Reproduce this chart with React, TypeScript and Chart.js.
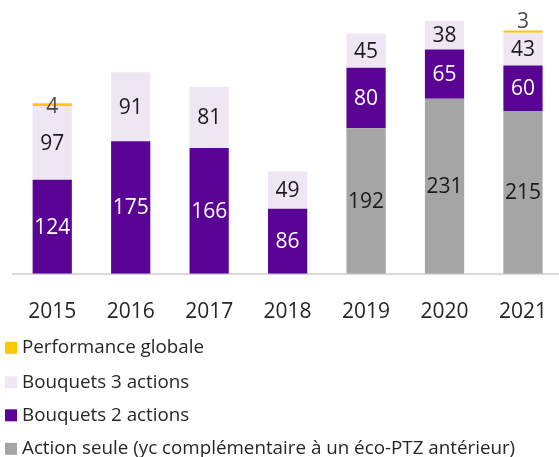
import React, { useEffect, useRef } from "react";
import { Chart, registerables } from "chart.js";

Chart.register(...registerables);

const years = ["2015", "2016", "2017", "2018", "2019", "2020", "2021"];
const actionSeule = [0, 0, 0, 0, 192, 231, 215];
const bouquets2 = [124, 175, 166, 86, 80, 65, 60];
const bouquets3 = [97, 91, 81, 49, 45, 38, 43];
const performanceGlobale = [4, 0, 0, 0, 0, 0, 3];

const FONT = "'Open Sans', 'Noto Sans', sans-serif";

const labelsPlugin = {
  id: "segLabels",
  afterDatasetsDraw(chart: any) {
    const ctx = chart.ctx;
    ctx.save();
    ctx.font = `21px ${FONT}`;
    ctx.textAlign = "center";
    ctx.textBaseline = "middle";
    chart.data.datasets.forEach((ds: any, di: number) => {
      const meta = chart.getDatasetMeta(di);
      meta.data.forEach((bar: any, i: number) => {
        const v = ds.data[i];
        if (!v) return;
        const top = Math.min(bar.y, bar.base);
        const bottom = Math.max(bar.y, bar.base);
        let y = (top + bottom) / 2;
        let color = ds.labelColor;
        if (ds.isPerf) {
          color = "#4a4a4a";
          if (i === ds.data.length - 1) y = top - 10;
          else y = (top + bottom) / 2 + 1;
        }
        ctx.fillStyle = color;
        ctx.fillText(String(v), bar.x, y + 1);
      });
    });
    ctx.restore();
  },
};

const legendPlugin = {
  id: "vertLegend",
  afterDraw(chart: any) {
    const ctx = chart.ctx;
    const order = [3, 2, 1, 0];
    const baseY = chart.chartArea.bottom;
    const offsets = [74, 108.5, 141.5, 175];
    ctx.save();
    ctx.font = `18.8px ${FONT}`;
    ctx.textAlign = "left";
    ctx.textBaseline = "middle";
    order.forEach((di, k) => {
      const ds = chart.data.datasets[di];
      const cy = baseY + offsets[k];
      ctx.fillStyle = ds.backgroundColor;
      ctx.fillRect(5, cy - 6, 12, 12);
      ctx.fillStyle = "#262626";
      ctx.fillText(ds.label, 22, cy);
    });
    ctx.restore();
  },
};

export default function App() {
  const ref = useRef<HTMLCanvasElement>(null);
  useEffect(() => {
    if (!ref.current) return;
    const chart = new Chart(ref.current, {
      type: "bar",
      data: {
        labels: years,
        datasets: [
          {
            label: "Action seule (yc complémentaire à un éco-PTZ antérieur)",
            data: actionSeule,
            backgroundColor: "#a5a5a5",
            labelColor: "#1a1a1a",
          } as any,
          {
            label: "Bouquets 2 actions",
            data: bouquets2,
            backgroundColor: "#590494",
            labelColor: "#ffffff",
          } as any,
          {
            label: "Bouquets 3 actions",
            data: bouquets3,
            backgroundColor: "#efe6f4",
            labelColor: "#1a1a1a",
          } as any,
          {
            label: "Performance globale",
            data: performanceGlobale,
            backgroundColor: "#ffc800",
            labelColor: "#4a4a4a",
            isPerf: true,
          } as any,
        ],
      },
      options: {
        animation: false,
        responsive: false,
        maintainAspectRatio: false,
        layout: { padding: { left: 13, right: 0, top: 1, bottom: 114 } },
        datasets: { bar: { barPercentage: 1, categoryPercentage: 0.5 } },
        plugins: {
          legend: { display: false },
          tooltip: { enabled: false },
        },
        scales: {
          x: {
            stacked: true,
            grid: { display: false },
            border: { display: true, color: "#d9d9d9", width: 2 },
            ticks: {
              color: "#262626",
              padding: 18,
              font: { family: FONT, size: 21 },
            },
          },
          y: {
            stacked: true,
            display: false,
            min: 0,
            max: 360,
          },
        },
      },
      plugins: [labelsPlugin, legendPlugin],
    });
    return () => chart.destroy();
  }, []);
  return (
    <div style={{ position: "absolute", left: 0, top: 0, width: 559, height: 457, overflow: "hidden", background: "#fff" }}>
      <canvas ref={ref} width={565} height={457} style={{ width: 565, height: 457 }} />
    </div>
  );
}
